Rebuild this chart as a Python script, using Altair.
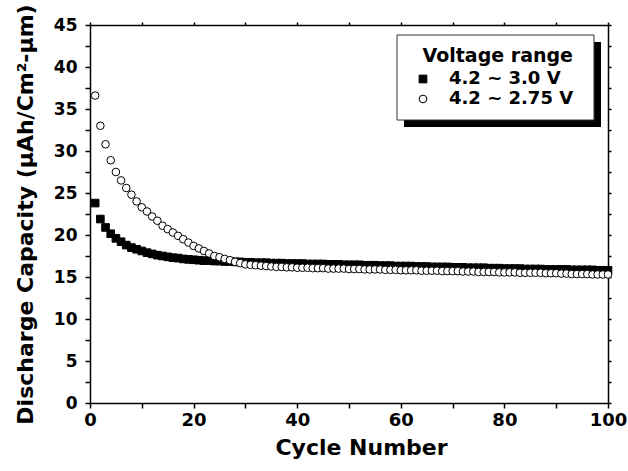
import altair as alt
import pandas as pd

cycles = list(range(1, 101))

cap_30 = [
    23.8, 21.9, 20.9, 20.15, 19.6, 19.2, 18.8, 18.5, 18.3, 18.1,
    17.9, 17.75, 17.6, 17.5, 17.4, 17.3, 17.25, 17.15, 17.1, 17.05,
    17.0, 16.95, 16.95, 16.9, 16.9, 16.85, 16.85, 16.8, 16.8, 16.75,
    16.75, 16.7, 16.7, 16.7, 16.65, 16.65, 16.65, 16.6, 16.6, 16.6,
    16.6, 16.55, 16.55, 16.55, 16.55, 16.5, 16.5, 16.5, 16.45, 16.45,
    16.45, 16.45, 16.4, 16.4, 16.4, 16.35, 16.35, 16.35, 16.3, 16.3,
    16.3, 16.3, 16.25, 16.25, 16.25, 16.2, 16.2, 16.2, 16.2, 16.15,
    16.15, 16.15, 16.1, 16.1, 16.1, 16.1, 16.05, 16.05, 16.05, 16.0,
    16.0, 16.0, 16.0, 15.95, 15.95, 15.95, 15.95, 15.9, 15.9, 15.9,
    15.9, 15.9, 15.85, 15.85, 15.85, 15.85, 15.85, 15.8, 15.8, 15.8,
]

cap_275 = [
    36.6, 33.0, 30.8, 28.9, 27.5, 26.5, 25.6, 24.8, 24.0, 23.3,
    22.8, 22.2, 21.7, 21.1, 20.7, 20.3, 19.9, 19.5, 19.1, 18.7,
    18.4, 18.1, 17.8, 17.5, 17.35, 17.15, 17.0, 16.8, 16.65, 16.5,
    16.45, 16.4, 16.35, 16.3, 16.25, 16.2, 16.2, 16.15, 16.15, 16.1,
    16.1, 16.1, 16.05, 16.05, 16.05, 16.0, 16.0, 16.0, 16.0, 15.95,
    15.95, 15.95, 15.9, 15.9, 15.9, 15.9, 15.85, 15.85, 15.85, 15.8,
    15.8, 15.8, 15.8, 15.75, 15.75, 15.75, 15.75, 15.7, 15.7, 15.7,
    15.7, 15.65, 15.65, 15.65, 15.6, 15.6, 15.6, 15.6, 15.55, 15.55,
    15.55, 15.55, 15.5, 15.5, 15.5, 15.5, 15.5, 15.45, 15.45, 15.45,
    15.4, 15.4, 15.35, 15.35, 15.35, 15.35, 15.3, 15.3, 15.3, 15.3,
]

series_names = ["4.2 ~ 3.0 V", "4.2 ~ 2.75 V"]
x_ticks = list(range(0, 101, 10))
y_ticks = [v / 2 for v in range(0, 91, 5)]

FONT = "DejaVu Sans"

df = pd.DataFrame({
    "cycle": cycles * 2,
    "cap": cap_30 + cap_275,
    "series": [series_names[0]] * 100 + [series_names[1]] * 100,
    "order": [0] * 100 + [1] * 100,
})

xscale = alt.Scale(domain=[0, 100], nice=False, zero=False)
yscale = alt.Scale(domain=[0, 45], nice=False, zero=False)

axis_common = dict(
    domainColor="black", domainWidth=1.5, tickColor="black", tickWidth=1.5,
    grid=False, labelFont=FONT, labelFontWeight="bold",
    labelColor="black", titleFont=FONT, titleFontWeight="bold", titleColor="black",
)

legend = alt.Legend(
    orient="none", legendX=324, legendY=22, title="Voltage range",
    padding=0,
    titleFont=FONT, titleFontSize=19, titleFontWeight="bold", titleColor="black",
    titleAnchor="end", labelFont=FONT, labelFontSize=18, labelFontWeight="bold",
    labelColor="black", symbolSize=60, symbolStrokeWidth=1, symbolStrokeColor="black",
    rowPadding=2, labelOffset=17, titlePadding=4,
)

points = alt.Chart(df).mark_point(filled=False, strokeWidth=1, size=58, opacity=1).encode(
    x=alt.X("cycle:Q", scale=xscale, title="Cycle Number",
            axis=alt.Axis(values=x_ticks, labelExpr="datum.value % 20 === 0 ? datum.label : ''",
                          tickSize=5, labelFontSize=18, titleFontSize=22, labelPadding=3,
                          titlePadding=8, titleX=271, labelFlush=False, **axis_common)),
    y=alt.Y("cap:Q", scale=yscale, title="Discharge Capacity (\u03bcAh/Cm\u00b2-\u03bcm)",
            axis=alt.Axis(values=y_ticks, labelExpr="datum.value % 5 === 0 ? datum.label : ''",
                          tickSize=5, labelFontSize=17, titleFontSize=22, labelPadding=8,
                          titlePadding=16, labelFlush=False, **axis_common)),
    shape=alt.Shape("series:N", scale=alt.Scale(domain=series_names, range=["square", "circle"]),
                    legend=legend),
    fill=alt.Fill("series:N", scale=alt.Scale(domain=series_names, range=["black", "white"]),
                  legend=legend),
    stroke=alt.Stroke("series:N", scale=alt.Scale(domain=series_names, range=["black", "black"]),
                      legend=legend),
    order=alt.Order("order:Q"),
)

frame = alt.Chart(df).mark_point(opacity=0).encode(
    x=alt.X("cycle:Q", scale=xscale, title=None,
            axis=alt.Axis(orient="top", values=x_ticks, labels=False, tickSize=3, **axis_common)),
    y=alt.Y("cap:Q", scale=yscale, title=None,
            axis=alt.Axis(orient="right", values=y_ticks, labels=False, tickSize=3, **axis_common)),
)

one = pd.DataFrame({"k": [0]})
shadow = alt.Chart(one).mark_rect(color="black").encode(
    x=alt.value(314), x2=alt.value(511), y=alt.value(17), y2=alt.value(102),
)
box = alt.Chart(one).mark_rect(fill="white", stroke="#333333", strokeWidth=1).encode(
    x=alt.value(307), x2=alt.value(504), y=alt.value(10), y2=alt.value(95),
)

chart = alt.layer(shadow, box, points, frame).resolve_scale(
    x="independent", y="independent"
).resolve_axis(x="independent", y="independent").properties(
    width=518, height=378,
    padding={"left": 90, "top": 25, "right": 20, "bottom": 68},
    autosize=alt.AutoSizeParams(type="none"),
).configure_view(stroke="black", strokeWidth=1.5).configure(background="white")

chart.save("out.html", embed_options={"renderer": "svg", "actions": False})
